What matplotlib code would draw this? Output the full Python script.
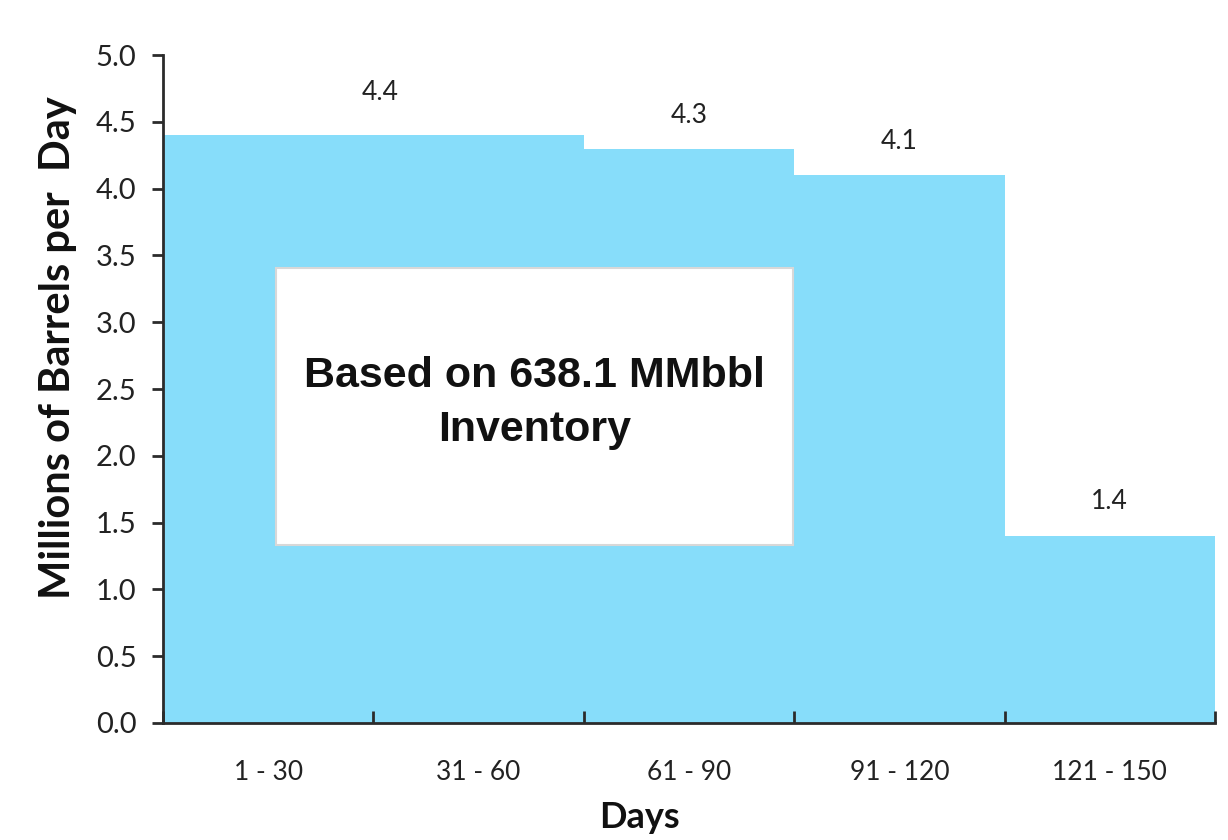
import matplotlib
matplotlib.use("Agg")
import matplotlib.pyplot as plt
from matplotlib.patches import Rectangle
import numpy as np

# Daily drawdown rate by 30-day period
periods = ["1 - 30", "31 - 60", "61 - 90", "91 - 120", "121 - 150"]
rates = [4.4, 4.4, 4.3, 4.1, 1.4]
# Value labels: each covers a run of bars (first index, last index)
label_spans = [(0, 1), (2, 2), (3, 3), (4, 4)]
yticks = [0.0, 0.5, 1.0, 1.5, 2.0, 2.5, 3.0, 3.5, 4.0, 4.5, 5.0]

bar_color = "#87DDFA"
axis_color = "#2b2b2b"
text_color = "#222222"

fig = plt.figure(figsize=(12.28, 8.4), dpi=100)
ax = fig.add_axes([0.1327, 0.1393, 0.8567, 0.7952])

x = np.arange(len(periods)) + 0.5
ax.bar(x, rates, width=1.0, color=bar_color, edgecolor="none", zorder=1)

ax.set_xlim(0, len(periods))
ax.set_ylim(0, 5.0)

label_offsets = [(5, 31), (0, 24), (0, 24), (0, 25)]
for (i0, i1), off in zip(label_spans, label_offsets):
    xc = (x[i0] + x[i1]) / 2
    v = rates[i0]
    ax.annotate(f"{v:.1f}", xy=(xc, v), xytext=off, textcoords="offset points",
                ha="center", va="center", fontsize=19, color=text_color,
                family="Lato")

# Boundary ticks on the x axis, category names centred between them
ax.set_xticks(np.arange(len(periods) + 1))
ax.set_xticklabels([])
ax.set_xticks(x, minor=True)
ax.set_xticklabels(periods, minor=True, fontsize=19, color=text_color, family="Lato")
ax.tick_params(axis="x", which="major", direction="in", length=9, width=2, color=axis_color)
ax.tick_params(axis="x", which="minor", length=0, pad=27)

ax.set_yticks(yticks)
ax.set_yticklabels([f"{t:.1f}" for t in yticks], fontsize=21, color=text_color, family="Lato")
ax.tick_params(axis="y", direction="out", length=8, width=2, color=axis_color, pad=11)

for s in ["top", "right"]:
    ax.spines[s].set_visible(False)
for s in ["left", "bottom"]:
    ax.spines[s].set_color(axis_color)
    ax.spines[s].set_linewidth(2)

ax.set_ylabel("Millions of Barrels per  Day", fontsize=30, fontweight="bold",
              color="#111111", family="Lato")
ax.yaxis.label.set_va("center")
ax.yaxis.set_label_coords(-0.100, 0.562)
ax.set_xlabel("Days", fontsize=26, fontweight="bold", color="#111111", family="Lato")
ax.xaxis.label.set_va("center")
ax.xaxis.set_label_coords(0.453, -0.142)

# Inventory note box
box = Rectangle((0.107, 0.266), 0.492, 0.415, transform=ax.transAxes,
                facecolor="white", edgecolor="#d8d8d8", linewidth=1.5, zorder=3)
ax.add_patch(box)
ax.text(0.353, 0.479, "Based on 638.1 MMbbl\nInventory", transform=ax.transAxes,
        ha="center", va="center", fontsize=31, fontweight="bold",
        family="Liberation Sans", color="#111111", linespacing=1.45, zorder=4)

fig.savefig("out.png", dpi=100, facecolor="white")
